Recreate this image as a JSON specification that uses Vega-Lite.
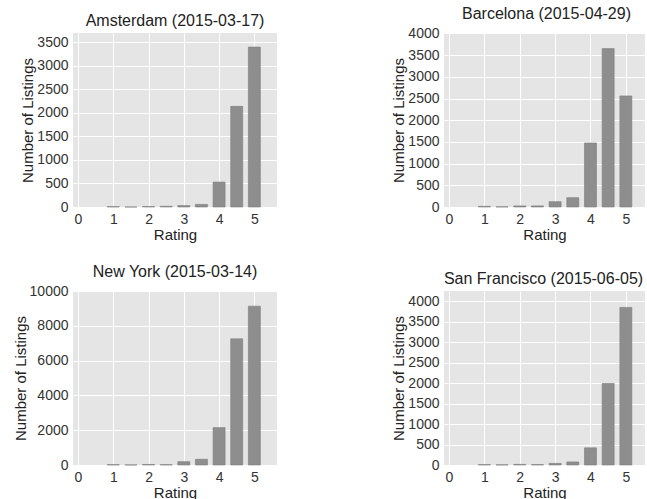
{
  "$schema": "https://vega.github.io/schema/vega-lite/v6.json",
  "padding": {"left": 13, "top": 6, "right": 0, "bottom": 0},
  "bounds": "flush",
  "columns": 2,
  "spacing": {"row": 84, "column": 167},
  "data": {"values": [
    {"city": "Amsterdam", "rating": 1, "count": 8},
    {"city": "Amsterdam", "rating": 1.5, "count": 0},
    {"city": "Amsterdam", "rating": 2, "count": 10},
    {"city": "Amsterdam", "rating": 2.5, "count": 15},
    {"city": "Amsterdam", "rating": 3, "count": 30},
    {"city": "Amsterdam", "rating": 3.5, "count": 55},
    {"city": "Amsterdam", "rating": 4, "count": 530},
    {"city": "Amsterdam", "rating": 4.5, "count": 2140},
    {"city": "Amsterdam", "rating": 5, "count": 3400},
    {"city": "Barcelona", "rating": 1, "count": 15},
    {"city": "Barcelona", "rating": 1.5, "count": 5},
    {"city": "Barcelona", "rating": 2, "count": 25},
    {"city": "Barcelona", "rating": 2.5, "count": 25},
    {"city": "Barcelona", "rating": 3, "count": 123},
    {"city": "Barcelona", "rating": 3.5, "count": 215},
    {"city": "Barcelona", "rating": 4, "count": 1476},
    {"city": "Barcelona", "rating": 4.5, "count": 3650},
    {"city": "Barcelona", "rating": 5, "count": 2560},
    {"city": "New York", "rating": 1, "count": 20},
    {"city": "New York", "rating": 1.5, "count": 5},
    {"city": "New York", "rating": 2, "count": 30},
    {"city": "New York", "rating": 2.5, "count": 20},
    {"city": "New York", "rating": 3, "count": 190},
    {"city": "New York", "rating": 3.5, "count": 330},
    {"city": "New York", "rating": 4, "count": 2150},
    {"city": "New York", "rating": 4.5, "count": 7250},
    {"city": "New York", "rating": 5, "count": 9130},
    {"city": "San Francisco", "rating": 1, "count": 10},
    {"city": "San Francisco", "rating": 1.5, "count": 5},
    {"city": "San Francisco", "rating": 2, "count": 15},
    {"city": "San Francisco", "rating": 2.5, "count": 10},
    {"city": "San Francisco", "rating": 3, "count": 40},
    {"city": "San Francisco", "rating": 3.5, "count": 75},
    {"city": "San Francisco", "rating": 4, "count": 420},
    {"city": "San Francisco", "rating": 4.5, "count": 1990},
    {"city": "San Francisco", "rating": 5, "count": 3850}
  ]},
  "concat": [
    {
      "title": "Amsterdam (2015-03-17)",
      "width": 204, "height": 174,
      "transform": [{"filter": "datum.city === 'Amsterdam'"}],
      "mark": {"type": "bar", "width": 12, "color": "#8e8e8e", "stroke": "#7d7d7d", "strokeWidth": 0.6},
      "encoding": {
        "x": {"field": "rating", "type": "quantitative", "scale": {"domain": [0, 5.5], "nice": false, "zero": false}, "axis": {"values": [0, 1, 2, 3, 4, 5], "format": "d", "title": "Rating"}},
        "y": {"field": "count", "type": "quantitative", "scale": {"domain": [0, 3700], "nice": false}, "axis": {"values": [0, 500, 1000, 1500, 2000, 2500, 3000, 3500], "format": "d", "title": "Number of Listings"}}
      }
    },
    {
      "title": {"text": "Barcelona (2015-04-29)", "dx": 2},
      "width": 201, "height": 174,
      "transform": [{"filter": "datum.city === 'Barcelona'"}],
      "mark": {"type": "bar", "width": 12, "color": "#8e8e8e", "stroke": "#7d7d7d", "strokeWidth": 0.6},
      "encoding": {
        "x": {"field": "rating", "type": "quantitative", "scale": {"domain": [0, 5.4], "nice": false, "zero": false}, "axis": {"values": [0, 1, 2, 3, 4, 5], "format": "d", "title": "Rating"}},
        "y": {"field": "count", "type": "quantitative", "scale": {"domain": [0, 4010], "nice": false}, "axis": {"values": [0, 500, 1000, 1500, 2000, 2500, 3000, 3500, 4000], "format": "d", "title": "Number of Listings"}}
      }
    },
    {
      "title": "New York (2015-03-14)",
      "width": 204, "height": 174,
      "transform": [{"filter": "datum.city === 'New York'"}],
      "mark": {"type": "bar", "width": 12, "color": "#8e8e8e", "stroke": "#7d7d7d", "strokeWidth": 0.6},
      "encoding": {
        "x": {"field": "rating", "type": "quantitative", "scale": {"domain": [0, 5.5], "nice": false, "zero": false}, "axis": {"values": [0, 1, 2, 3, 4, 5], "format": "d", "title": "Rating"}},
        "y": {"field": "count", "type": "quantitative", "scale": {"domain": [0, 10000], "nice": false}, "axis": {"values": [0, 2000, 4000, 6000, 8000, 10000], "format": "d", "title": "Number of Listings"}}
      }
    },
    {
      "title": {"text": "San Francisco (2015-06-05)", "dx": -1},
      "width": 201, "height": 174,
      "transform": [{"filter": "datum.city === 'San Francisco'"}],
      "mark": {"type": "bar", "width": 12, "color": "#8e8e8e", "stroke": "#7d7d7d", "strokeWidth": 0.6},
      "encoding": {
        "x": {"field": "rating", "type": "quantitative", "scale": {"domain": [0, 5.4], "nice": false, "zero": false}, "axis": {"values": [0, 1, 2, 3, 4, 5], "format": "d", "title": "Rating"}},
        "y": {"field": "count", "type": "quantitative", "scale": {"domain": [0, 4250], "nice": false}, "axis": {"values": [0, 500, 1000, 1500, 2000, 2500, 3000, 3500, 4000], "format": "d", "title": "Number of Listings"}}
      }
    }
  ],
  "config": {
    "background": "white",
    "view": {"fill": "#e5e5e5", "stroke": null},
    "axis": {
      "gridColor": "white", "gridWidth": 1, "gridOpacity": 1,
      "domain": false, "ticks": false,
      "labelFont": "Liberation Sans", "labelFontSize": 14, "labelColor": "#333333", "labelPadding": 5,
      "titleFont": "Liberation Sans", "titleFontSize": 15, "titleFontWeight": "normal", "titleColor": "#222222", "titlePadding": 1
    },
    "axisX": {"titlePadding": 1},
    "title": {"font": "Liberation Sans", "fontSize": 16, "fontWeight": "normal", "color": "#222222", "offset": 4}
  }
}
